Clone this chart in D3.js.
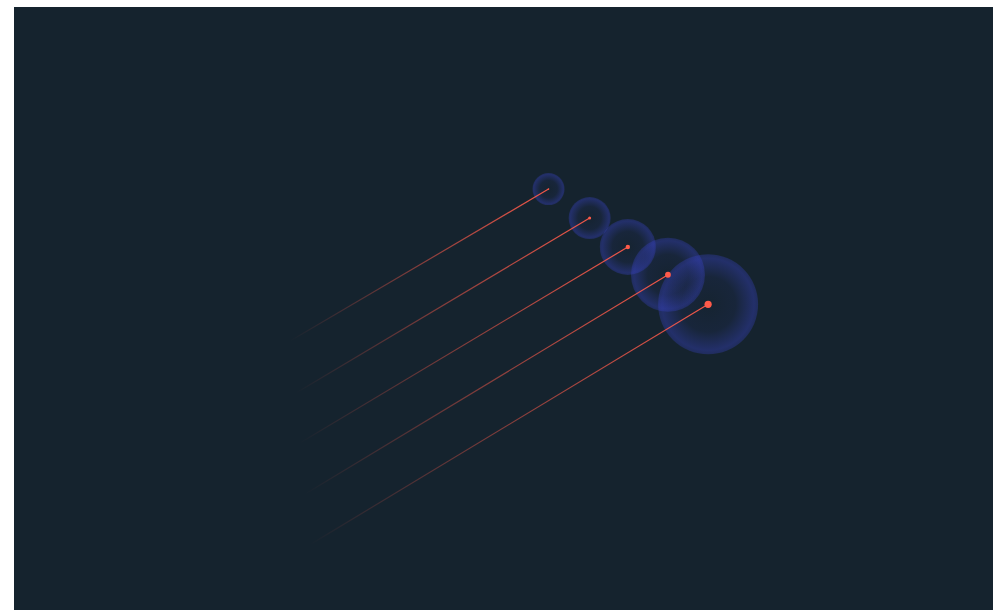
<!DOCTYPE html>
<html>
<head>
<meta charset="utf-8">
<script src="https://cdn.jsdelivr.net/npm/d3@7"></script>
<style>
  html, body { margin: 0; padding: 0; background: #ffffff; }
  #chart { position: absolute; left: 14px; top: 7px; }
</style>
</head>
<body>
<div id="chart"></div>
<script>
const categories = ["A", "B", "C", "D", "E"];
const headX = [54.6, 58.8, 62.7, 66.8, 70.9];
const headY = [69.8, 65.0, 60.2, 55.6, 50.7];
const tailX = [28.2, 28.8, 29.2, 29.7, 30.2];
const tailY = [44.6, 36.0, 27.7, 19.2, 10.8];
const haloSize = [16, 21, 28, 37, 50];
const dotSize = [0.8, 1.5, 2.2, 2.9, 3.6];

const W = 979, H = 603;
const svg = d3.select("#chart").append("svg").attr("width", W).attr("height", H);
svg.append("rect").attr("width", W).attr("height", H).attr("fill", "#15232e");

const x = d3.scaleLinear().domain([0, 100]).range([0, W]);
const y = d3.scaleLinear().domain([0, 100]).range([H, 0]);
const r = d3.scaleLinear().domain([0, 50]).range([0, 50]);

const data = categories.map((c, i) => ({
  c, hx: headX[i], hy: headY[i], tx: tailX[i], ty: tailY[i], halo: haloSize[i], dot: dotSize[i]
}));

const defs = svg.append("defs");
const rg = defs.append("radialGradient").attr("id", "halo");
rg.append("stop").attr("offset", "0%").attr("stop-color", "#3a44cc").attr("stop-opacity", 0.02);
rg.append("stop").attr("offset", "55%").attr("stop-color", "#3a44cc").attr("stop-opacity", 0.08);
rg.append("stop").attr("offset", "92%").attr("stop-color", "#3a44cc").attr("stop-opacity", 0.38);
rg.append("stop").attr("offset", "100%").attr("stop-color", "#3a44cc").attr("stop-opacity", 0.3);

data.forEach((d, i) => {
  const lg = defs.append("linearGradient").attr("id", "tail" + i)
    .attr("gradientUnits", "userSpaceOnUse")
    .attr("x1", x(d.tx)).attr("y1", y(d.ty)).attr("x2", x(d.hx)).attr("y2", y(d.hy));
  lg.append("stop").attr("offset", "0%").attr("stop-color", "#ff5a4a").attr("stop-opacity", 0);
  lg.append("stop").attr("offset", "100%").attr("stop-color", "#ff5a4a").attr("stop-opacity", 0.95);
});

svg.append("g").selectAll("circle").data(data).join("circle")
  .attr("cx", d => x(d.hx)).attr("cy", d => y(d.hy)).attr("r", d => r(d.halo))
  .attr("fill", "url(#halo)");

svg.append("g").selectAll("line").data(data).join("line")
  .attr("x1", d => x(d.tx)).attr("y1", d => y(d.ty))
  .attr("x2", d => x(d.hx)).attr("y2", d => y(d.hy))
  .attr("stroke", (d, i) => `url(#tail${i})`).attr("stroke-width", 1.2);

svg.append("g").selectAll("circle").data(data).join("circle")
  .attr("cx", d => x(d.hx)).attr("cy", d => y(d.hy)).attr("r", d => d.dot)
  .attr("fill", "#ff5a4a");
</script>
</body>
</html>
